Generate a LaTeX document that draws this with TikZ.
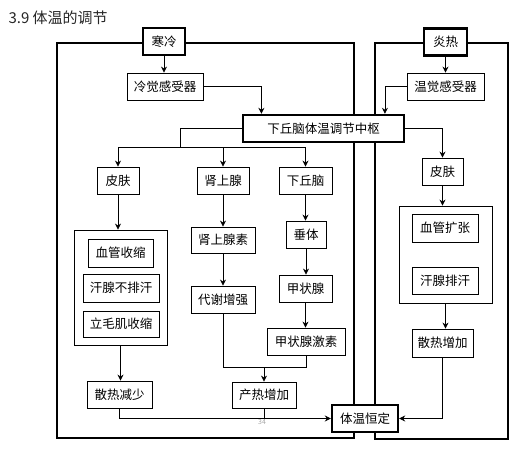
\documentclass[tikz,border=0pt]{standalone}
\usepackage{fontspec}
\setmainfont{Noto Sans CJK SC}
\usetikzlibrary{calc,arrows.meta}
\begin{document}
\begin{tikzpicture}[x=1pt,y=-1pt,>={Stealth[length=6pt,width=6pt]},line join=miter,font=\fontsize{12.5}{14}\selectfont,
  box/.style={draw,line width=0.8pt,fill=white,inner sep=0pt,minimum height=27pt},
  bigbox/.style={box,line width=2.4pt},
  group/.style={draw,line width=0.8pt,inner sep=0pt},
  frame/.style={line width=1.6pt},
  link/.style={line width=0.8pt}]
	\useasboundingbox (0,0) rectangle (529,453);
	\node[anchor=west,font=\fontsize{15}{17}\selectfont,text=black!85] (title) at (5,18) {3.9 体温的调节};
	% frames
	\draw[frame] (57,43) rectangle (354,438);
	\draw[frame] (375,43) rectangle (508,439);
	\node[group,minimum width=93pt,minimum height=115pt] (groupL) at (120.5,287.5) {};
	\node[group,minimum width=93pt,minimum height=97pt] (groupR) at (445.5,254.5) {};
	% nodes
	\node[bigbox,minimum width=42pt] (cold) at (164,41.5) {寒冷};
	\node[bigbox,minimum width=43pt] (hot) at (445.5,42) {炎热};
	\node[box,minimum width=76pt] (coldsen) at (165,86.5) {冷觉感受器};
	\node[box,minimum width=77pt] (hotsen) at (445.5,86.5) {温觉感受器};
	\node[bigbox,minimum width=161pt] (center) at (323.5,128.5) {下丘脑体温调节中枢};
	\node[box,minimum width=42pt] (skinL) at (118,180.5) {皮肤};
	\node[box,minimum width=52pt] (adrenal) at (223,180.5) {肾上腺};
	\node[box,minimum width=53pt] (hypo) at (305.5,180.5) {下丘脑};
	\node[box,minimum width=41pt] (skinR) at (442.5,171.5) {皮肤};
	\node[box,minimum width=65pt,minimum height=28pt] (vc) at (120.5,253) {血管收缩};
	\node[box,minimum width=76pt,minimum height=28pt] (nosweat) at (121,288) {汗腺不排汗};
	\node[box,minimum width=76pt,minimum height=26pt] (piloerect) at (121,324) {立毛肌收缩};
	\node[box,minimum width=65pt] (lessheat) at (119.5,394.5) {散热减少};
	\node[box,minimum width=64pt,minimum height=26pt] (epi) at (223,240) {肾上腺素};
	\node[box,minimum width=64pt] (metab) at (223,299.5) {代谢增强};
	\node[box,minimum width=40pt] (pit) at (306,234.5) {垂体};
	\node[box,minimum width=53pt] (thy) at (305.5,288.5) {甲状腺};
	\node[box,minimum width=78pt] (thyh) at (306,341.5) {甲状腺激素};
	\node[box,minimum width=64pt,minimum height=26pt] (moreheat) at (264,395) {产热增加};
	\node[bigbox,minimum width=66pt] (stable) at (365,418.5) {体温恒定};
	\node[box,minimum width=66pt,minimum height=28pt] (vd) at (445,228) {血管扩张};
	\node[box,minimum width=66pt] (sweat) at (445,280.5) {汗腺排汗};
	\node[box,minimum width=61pt,minimum height=28pt] (moreloss) at (442.5,343) {散热增加};
	\node[text=black!35,font=\fontsize{7}{8}\selectfont] (pagenum) at (262,422) {34};
	% links
	\coordinate (split) at (180,147);
	\coordinate (join) at (264,367);
	\draw[link,->] (cold.south) -- (cold.south |- coldsen.north);
	\draw[link,->] (hot.south) -- (hot.south |- hotsen.north);
	\draw[link,->] (coldsen.east) -| ($(center.north west)!0.12!(center.north east)$);
	\draw[link,->] (hotsen.west) -| ($(center.north west)!0.876!(center.north east)$);
	\draw[link,->] (center.east) -| (skinR.north);
	\draw[link] (center.west) -| (split);
	\draw[link,->] (split) -| (skinL.north);
	\draw[link,->] (split) -| (adrenal.north);
	\draw[link,->] (split) -| (hypo.north);
	\draw[link,->] (skinL.south) -- (skinL.south |- groupL.north);
	\draw[link,->] (groupL.south) -- (groupL.south |- lessheat.north);
	\draw[link,->] (lessheat.south) |- (stable.west);
	\draw[link,->] (adrenal) -- (epi);
	\draw[link,->] (epi) -- (metab);
	\draw[link,->] (hypo.south) -- (hypo.south |- pit.north);
	\draw[link,->] (pit) -- (pit |- thy.north);
	\draw[link,->] (thy.south) -- (thy.south |- thyh.north);
	\draw[link] (metab.south) |- (join -| thyh.south) -- (thyh.south);
	\draw[link,->] (join) -- (moreheat.north);
	\draw[link] (moreheat.south) -- (moreheat.south |- stable.west);
	\draw[link,->] (skinR.south) -- (skinR.south |- groupR.north);
	\draw[link,->] (groupR.south) -- (groupR.south |- moreloss.north);
	\draw[link,->] (moreloss.south) |- (stable.east);
\end{tikzpicture}
\end{document}
